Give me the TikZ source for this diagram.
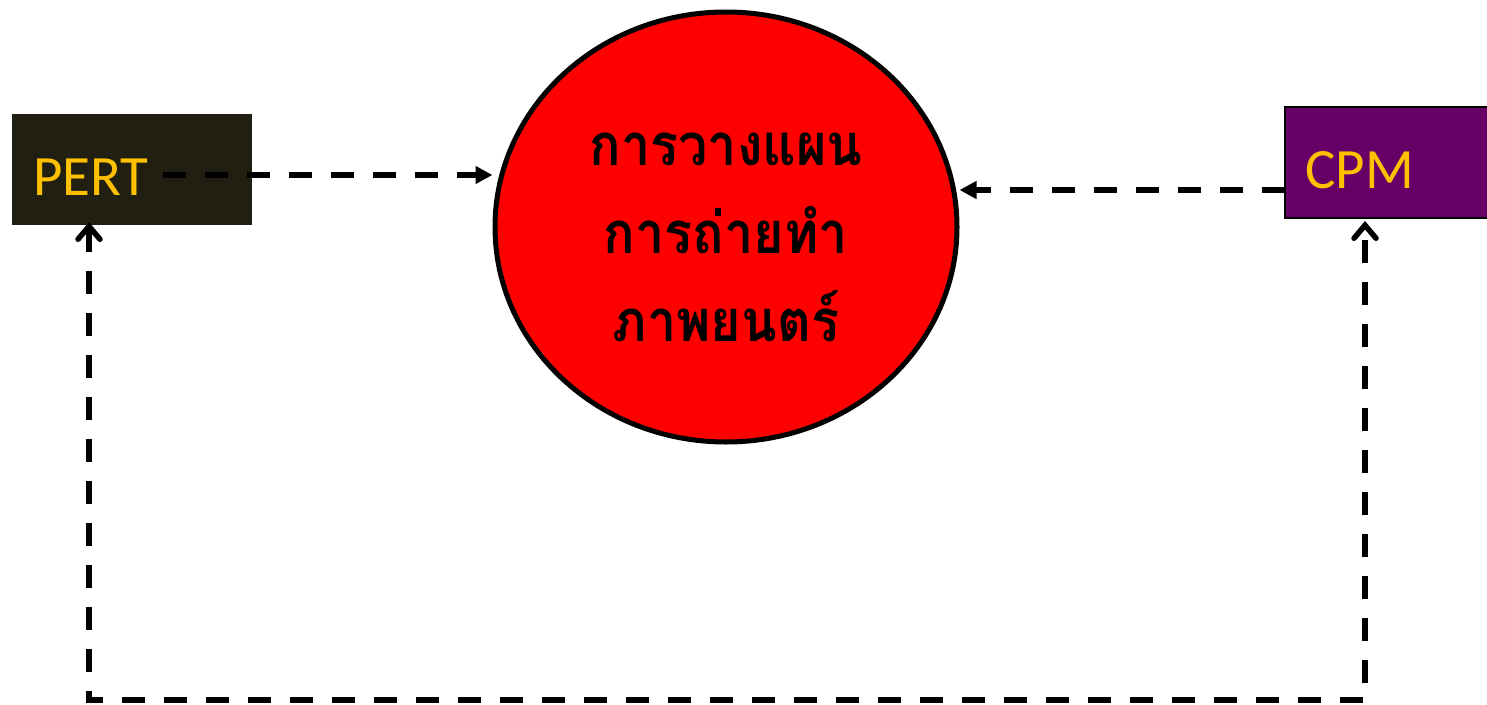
\documentclass[tikz,border=0pt]{standalone}
\usepackage{fontspec}
\setmainfont{Carlito}
\newfontfamily\thaifont[Script=Thai,FakeStretch=0.9]{Loma}
\usetikzlibrary{shapes.geometric,arrows.meta}
\definecolor{pertfill}{RGB}{33,30,18}
\definecolor{cpmfill}{RGB}{102,0,102}
\definecolor{gold}{RGB}{255,192,0}
\tikzset{
  boxlabel/.style={inner sep=0pt, anchor=base west, text=gold, font=\fontsize{57}{60}\selectfont},
  conn/.style={line width=5.5pt, dash pattern=on 23pt off 19pt},
  tri/.style={-{Triangle[length=17pt,width=17pt]}},
  barb/.style={{Straight Barb[length=13pt,width=22pt,line cap=round]}-{Straight Barb[length=13pt,width=22pt,line cap=round]}},
}
\begin{document}
\begin{tikzpicture}[x=1pt,y=-1pt]
\useasboundingbox (0,0) rectangle (1487,704);
\node[fill=pertfill, minimum width=240pt, minimum height=111pt, inner sep=0pt] (pert) at (132,169.5) {};
\node[boxlabel] (pertlabel) at (33,195) {PERT};
\node[fill=cpmfill, draw=black, line width=1.2pt, minimum width=210pt, minimum height=111pt, inner sep=0pt] (cpm) at (1390,162.5) {};
\node[boxlabel] (cpmlabel) at (1305,188) {CPM};
\node[ellipse, fill=red, draw=black, line width=5pt, minimum width=462pt, minimum height=430pt, inner sep=0pt] (plan) at (726,227) {};
\node[align=center, font=\thaifont\bfseries\fontsize{58}{88}\selectfont, inner sep=0pt] (plantext) at (726,237) {การวางแผน\\การถ่ายทำ\\ภาพยนตร์};
\coordinate (pstart) at (163,175);
\draw[conn,tri] (pstart) -- (pstart -| plan.west);
\coordinate (cstart) at (1285,190);
\draw[conn,tri] (cstart) -- (cstart -| plan.east);
\coordinate (pb) at (89,222);
\coordinate (cb) at (1365,221);
\coordinate (bl) at (89,700);
\coordinate (br) at (1365,700);
\draw[conn,barb] (pb) -- (bl) -- (br) -- (cb);
\end{tikzpicture}
\end{document}
